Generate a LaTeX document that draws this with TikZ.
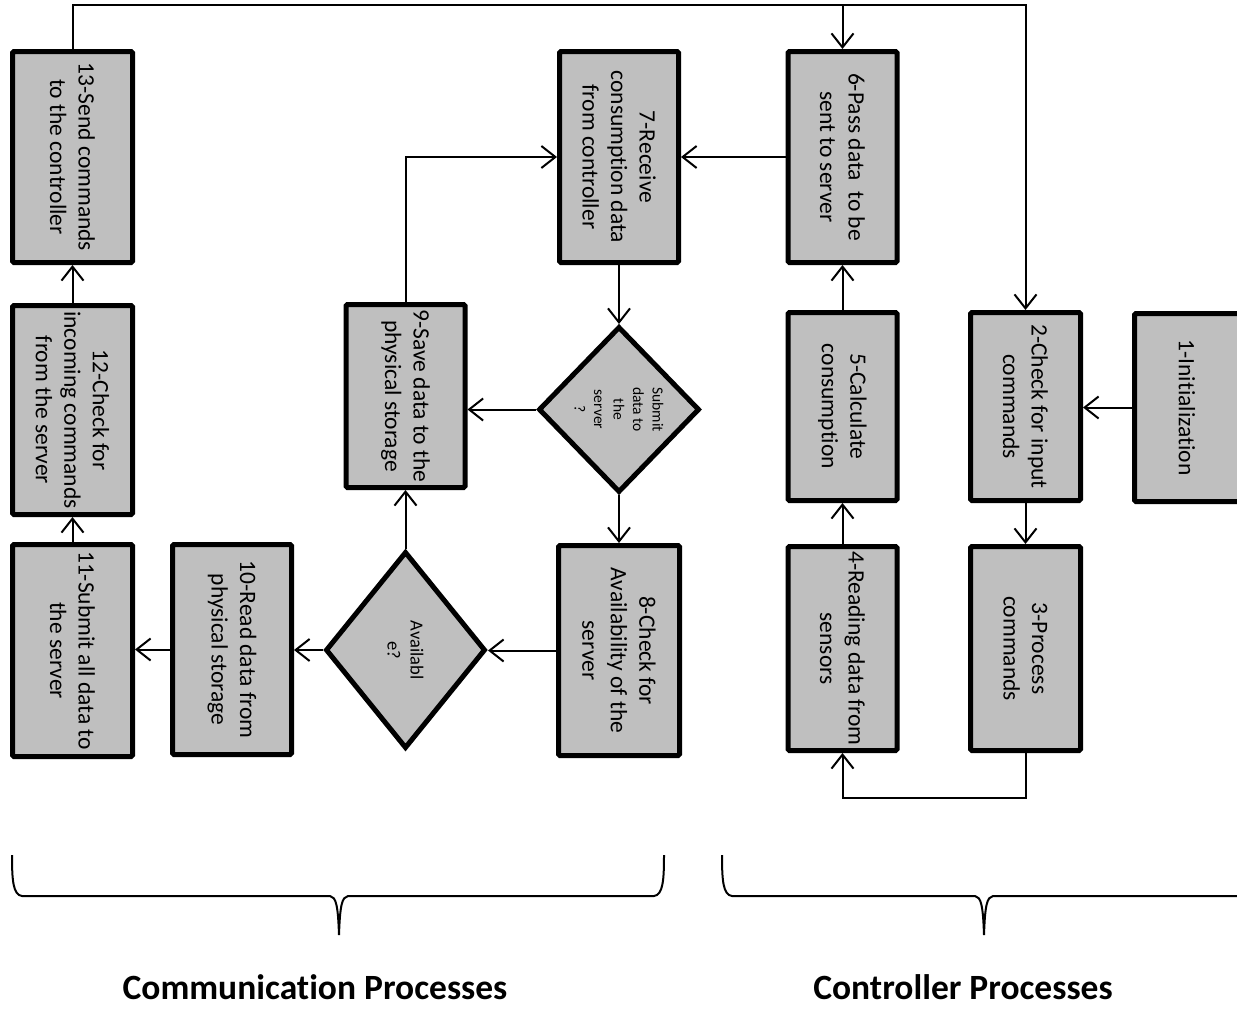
\documentclass[tikz,border=0pt]{standalone}
\usepackage{fontspec}
\setmainfont[Ligatures=NoCommon]{Carlito}
\usetikzlibrary{arrows.meta,shapes.geometric}
\definecolor{boxgray}{RGB}{191,191,191}
\begin{document}
\begin{tikzpicture}[x=1pt,y=-1pt,
  box/.style={draw=black,fill=boxgray,line width=5pt,rounded corners=1.5pt,inner sep=0pt},
  dia/.style={diamond,draw=black,fill=boxgray,line width=5pt,inner sep=0pt},
  txt/.style={rotate=-90,align=center,font=\fontsize{23.5}{28.5}\selectfont,inner sep=0pt},
  dtxt/.style={rotate=-90,align=center,inner sep=0pt},
  conn/.style={line width=2pt,-{Straight Barb[length=14pt,width=22pt]}},
  brace/.style={line width=2pt},
  title/.style={font=\fontsize{35.5}{40}\selectfont\bfseries,inner sep=0pt}
]
\useasboundingbox (0,0) rectangle (1237,1009);
\begin{scope}
\clip (0,0) rectangle (1237,1009);

% boxes
\node[box,minimum width=120pt,minimum height=211pt] (n13) at (72.5,157) {};
\node[box,minimum width=120pt,minimum height=209pt] (n12) at (72.5,410) {};
\node[box,minimum width=120pt,minimum height=212pt] (n11) at (72.5,650.5) {};
\node[box,minimum width=119pt,minimum height=210pt] (n10) at (232,649.5) {};
\node[box,minimum width=119pt,minimum height=183pt] (n9) at (405.5,396) {};
\node[box,minimum width=119pt,minimum height=211pt] (n7) at (619,157) {};
\node[box,minimum width=121pt,minimum height=210pt] (n8) at (619,650.5) {};
\node[box,minimum width=109pt,minimum height=211pt] (n6) at (842.5,157) {};
\node[box,minimum width=109pt,minimum height=188pt] (n5) at (842.5,406.5) {};
\node[box,minimum width=109pt,minimum height=204pt] (n4) at (842.5,648.5) {};
\node[box,minimum width=110pt,minimum height=188pt] (n2) at (1025.5,406.5) {};
\node[box,minimum width=110pt,minimum height=204pt] (n3) at (1025.5,648.5) {};
\node[box,minimum width=165pt,minimum height=188pt] (n1) at (1217,407.5) {};

% diamonds
\node[dia,minimum width=161pt,minimum height=166pt] (d1) at (619,409.5) {};
\node[dia,minimum width=160pt,minimum height=197pt] (d2) at (405.5,650) {};

% texts
\node[txt] (t13) at (n13) {13-Send commands\\to the controller};
\node[txt] (t12) at (n12) {12-Check for\\incoming commands\\from the server};
\node[txt] (t11) at (n11) {11-Submit all data to\\the server};
\node[txt] (t10) at (n10) {10-Read data from\\physical storage};
\node[txt] (t9) at (n9) {9-Save data to the\\physical storage};
\node[txt] (t7) at (n7) {7-Receive\\consumption data\\from controller};
\node[txt] (t8) at (n8) {8-Check for\\Availability of the\\server};
\node[txt] (t6) at (n6) {6-Pass data\ \ to be\\sent to server};
\node[txt] (t5) at (n5) {5-Calculate\\consumption};
\node[txt] (t4) at (n4) {4-Reading data from\\sensors};
\node[txt] (t2) at (n2) {2-Check for input\\commands};
\node[txt] (t3) at (n3) {3-Process\\commands};
\node[txt] (t1) at (1187,407.5) {1-Initialization};
\node[dtxt,font=\fontsize{15.5}{19.5}\selectfont] (td1) at (d1) {Submit\\data to\\the\\server\\?};
\node[dtxt,font=\fontsize{18.5}{23}\selectfont] (td2) at (d2) {Availabl\\e?};

% helper coordinates
\coordinate (topy) at (0,5);
\coordinate (boty) at (0,798);

% connectors
\draw[conn] (n1.west) -- (n1.west -| n2.east);
\draw[conn] (n2.south) -- (n3.north);
\draw[conn] (n3.south) -- (n3.south |- boty) -| (n4.south);
\draw[conn] (n4.north) -- (n5.south);
\draw[conn] (n5.north) -- (n6.south);
\draw[conn] (n6.west) -- (n7.east);
\draw[conn] (n7.south) -- (d1.north);
\draw[conn] (d1.west) -- (d1.west -| n9.east);
\draw[conn] (d1.south) -- (n8.north);
\draw[conn] (n8.west) -- (n8.west -| d2.east);
\draw[conn] (d2.north) -- (n9.south);
\draw[conn] (n9.north) |- (n7.west);
\draw[conn] (d2.west) -- (d2.west -| n10.east);
\draw[conn] (n10.west) -- (n10.west -| n11.east);
\draw[conn] (n11.north) -- (n12.south);
\draw[conn] (n12.north) -- (n13.south);
\draw[conn] (n13.north) -- (n13.north |- topy) -| (n6.north);
\draw[conn] (n6.north |- topy) -| (n2.north);

% braces
\draw[brace] (12,855) .. controls (12,880) and (13,895) .. (22,896) -- (330,896)
  .. controls (336,897) and (338,905) .. (339,935)
  .. controls (340,905) and (342,897) .. (348,896) -- (654,896)
  .. controls (663,895) and (664,880) .. (664,855);
\draw[brace] (722,855) .. controls (722,880) and (723,895) .. (732,896) -- (975,896)
  .. controls (981,897) and (983,905) .. (984,935)
  .. controls (985,905) and (987,897) .. (993,896) -- (1246,896)
  .. controls (1255,895) and (1256,880) .. (1256,855);

% titles
\node[title] (lab1) at (315,987) {Communication Processes};
\node[title] (lab2) at (963,987) {Controller Processes};
\end{scope}
\end{tikzpicture}
\end{document}
